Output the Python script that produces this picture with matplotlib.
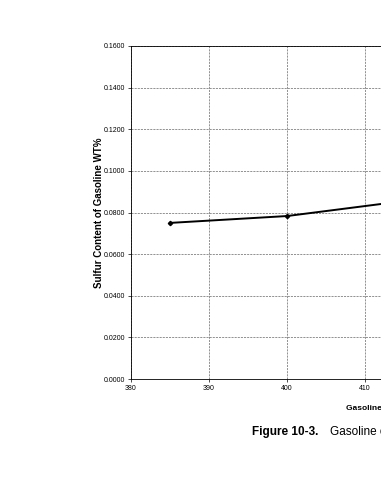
import numpy as np
import matplotlib.pyplot as plt

plt.rcParams['font.family'] = ['Liberation Sans', 'DejaVu Sans']

endpoint = [385, 400, 415]
sulfur = [0.0750, 0.0783, 0.0855]
xticks = [380, 390, 400, 410, 420, 430, 440]
yticks = [0.0, 0.02, 0.04, 0.06, 0.08, 0.10, 0.12, 0.14, 0.16]

fig = plt.figure(figsize=(3.81, 4.8), dpi=100)
# axes runs past the right edge of the page, as in the scan
ax = fig.add_axes([131/381, 101/480, 468/381, 333/480])
ax.plot(endpoint, sulfur, color='black', lw=1.4, marker='D', ms=2.2)
ax.set_xlim(380, 440)
ax.set_ylim(0, 0.16)
ax.set_xticks(xticks)
ax.set_yticks(yticks)
ax.set_yticklabels(['%.4f' % v for v in yticks])
ax.tick_params(labelsize=5, length=2, width=0.5, pad=2)
ax.grid(True, color='#666666', ls=(0, (3, 1.5)), lw=0.5)
for s in ax.spines.values():
    s.set_linewidth(0.6)
ax.set_ylabel('Sulfur Content of Gasoline WT%', fontsize=7, fontweight='bold', labelpad=0)

fig.text(346/381, 1 - 408/480, 'Gasoline Endpoint, °F', fontsize=6, fontweight='bold', va='center')
fig.text(252/381, 1 - 432/480, 'Figure 10-3.', fontsize=8.5, fontweight='bold', va='center')
fig.text(330/381, 1 - 432/480, 'Gasoline endpoint vs. sulfur content', fontsize=8.5, va='center')

fig.savefig('out.png', dpi=100)
